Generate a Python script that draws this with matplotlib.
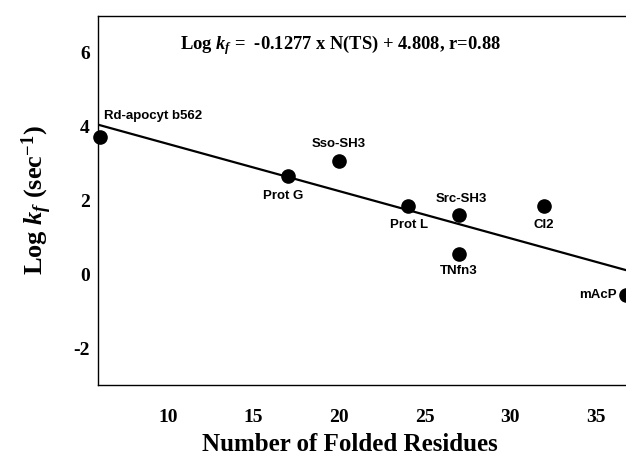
import matplotlib
matplotlib.use("Agg")
import matplotlib.pyplot as plt

# ---------- Data ----------

proteins = ["Rd-apocyt b562", "Prot G", "Sso-SH3", "Prot L", "Src-SH3", "TNfn3", "CI2", "mAcP"]
folded_residues = [6, 17, 20, 24, 27, 27, 32, 36.8]
log_kf = [3.73, 2.65, 3.08, 1.84, 1.60, 0.54, 1.84, -0.55]

# label offsets (pixels) relative to each point
label_dx = [4, -5, 0, 2, 3, 0, -1, -10]
label_dy = [21, -20, 17, -19, 16, -17, -19, 0]
label_ha = ["left", "center", "center", "center", "center", "center", "center", "right"]

slope = -0.1277
intercept = 4.808
fit_x = [5.9, 40]
fit_y = [intercept + slope * x for x in fit_x]

x_ticks = [10, 15, 20, 25, 30, 35]
y_ticks = [-2, 0, 2, 4, 6]

# ---------- Style ----------

plt.rcParams["axes.unicode_minus"] = False
plt.rcParams["mathtext.fontset"] = "custom"
plt.rcParams["mathtext.rm"] = "Liberation Serif:bold"
plt.rcParams["mathtext.bf"] = "Liberation Serif:bold"
plt.rcParams["mathtext.it"] = "Liberation Serif:italic:bold"

serif = ["Liberation Serif", "DejaVu Serif"]
sans = ["Liberation Sans", "DejaVu Sans"]

# ---------- Plot ----------

fig = plt.figure(figsize=(6.26, 4.70), dpi=100)
ax = fig.add_axes([0.1565, 0.181, 0.866, 0.785])

ax.plot(fit_x, fit_y, color="black", lw=1.6, zorder=2)
ax.plot(folded_residues, log_kf, "o", color="black", ms=9.5, zorder=3, clip_on=False)

for name, x, y, dx, dy, ha in zip(proteins, folded_residues, log_kf, label_dx, label_dy, label_ha):
    ax.annotate(name, (x, y), xytext=(dx, dy), textcoords="offset pixels",
                ha=ha, va="center", fontsize=9.5, family=sans, fontweight="bold")

ax.set_xlim(5.9, 37.6)
ax.set_ylim(-3, 7)
ax.set_xticks(x_ticks)
ax.set_yticks(y_ticks)
ax.tick_params(length=0)
ax.tick_params(axis="x", pad=17)
ax.tick_params(axis="y", pad=6)
for lab in ax.get_xticklabels() + ax.get_yticklabels():
    lab.set_fontfamily(serif)
    lab.set_fontweight("bold")
    lab.set_fontsize(14)

for spine in ax.spines.values():
    spine.set_linewidth(1.0)

ax.set_xlabel("Number of Folded Residues", family=serif, fontweight="bold", fontsize=18)
ax.xaxis.set_label_coords(0.465, -0.13)
ax.set_ylabel(r"Log $k_f$ (sec$^{-1}$)", family=serif, fontweight="bold",
              fontsize=19, labelpad=14)

ax.text(0.447, 0.922, r"Log $k_f$ =  -0.1277 x N(TS) + 4.808, r=0.88",
        transform=ax.transAxes, ha="center", va="center", family=serif,
        fontweight="bold", fontsize=13.3)

plt.savefig("out.png", dpi=100)
